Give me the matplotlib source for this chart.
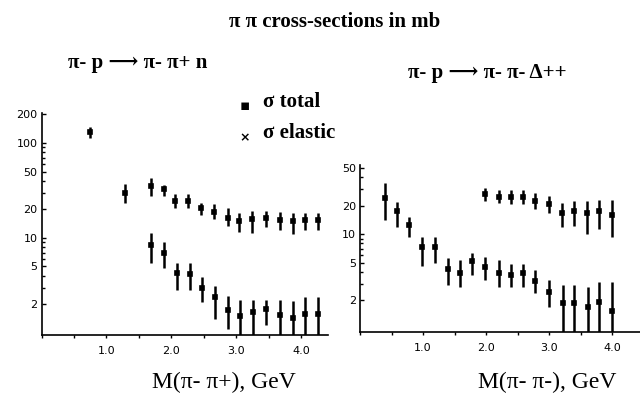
import matplotlib
matplotlib.use('Agg')
import matplotlib.pyplot as plt
from matplotlib.ticker import FixedLocator, NullFormatter, MultipleLocator

plt.rcParams['font.size'] = 8

# pi- p -> pi- pi+ n : total cross-section
m_tot_l = [0.74, 1.28, 1.68, 1.88, 2.06, 2.25, 2.46, 2.66, 2.88, 3.05, 3.25, 3.46, 3.67, 3.87, 4.06, 4.26]
s_tot_l = [131, 29.5, 35.5, 32.6, 24.5, 24.5, 20.5, 18.9, 16.1, 15.2, 15.9, 16.1, 15.4, 14.9, 15.4, 15.4]
lo_tot_l = [112, 23.2, 27.7, 27.3, 20.5, 20.5, 17.4, 15.9, 13.2, 11.6, 11.4, 13.0, 12.2, 11.1, 12.2, 12.2]
hi_tot_l = [148, 36.8, 42.5, 36.1, 29.0, 29.0, 23.2, 22.6, 20.5, 18.5, 19.4, 19.4, 18.9, 18.5, 18.5, 18.5]

# pi- p -> pi- pi+ n : elastic cross-section
m_el_l = [1.68, 1.88, 2.08, 2.28, 2.47, 2.67, 2.88, 3.06, 3.26, 3.46, 3.67, 3.87, 4.06, 4.26]
s_el_l = [8.4, 6.9, 4.25, 4.2, 2.95, 2.41, 1.75, 1.51, 1.64, 1.78, 1.55, 1.45, 1.57, 1.57]
lo_el_l = [5.4, 4.8, 2.84, 2.84, 2.1, 1.4, 1.1, 0.9, 0.9, 1.22, 0.9, 0.9, 0.9, 0.9]
hi_el_l = [11.4, 9.1, 5.5, 5.4, 3.9, 3.1, 2.45, 2.2, 2.2, 2.22, 2.2, 2.15, 2.4, 2.4]

# pi- p -> pi- pi- Delta++ : upper series
m_tot_r = [1.98, 2.20, 2.40, 2.59, 2.78, 3.00, 3.20, 3.39, 3.60, 3.79, 4.00]
s_tot_r = [26.7, 25.0, 24.6, 24.6, 22.7, 20.8, 16.9, 17.5, 16.7, 17.5, 16.0]
lo_tot_r = [22.5, 21.5, 21.0, 20.8, 18.6, 16.9, 11.9, 12.2, 10.2, 11.4, 9.3]
hi_tot_r = [30.7, 29.6, 29.6, 29.6, 27.3, 25.3, 21.6, 22.3, 22.5, 23.0, 23.2]

# pi- p -> pi- pi- Delta++ : lower series
m_el_r = [0.39, 0.58, 0.78, 0.99, 1.19, 1.39, 1.59, 1.77, 1.98, 2.20, 2.40, 2.59, 2.78, 3.00, 3.22, 3.40, 3.61, 3.79, 4.00]
s_el_r = [24.0, 17.7, 12.6, 7.3, 7.4, 4.26, 3.92, 5.26, 4.54, 3.92, 3.7, 3.85, 3.2, 2.47, 1.86, 1.86, 1.71, 1.9, 1.54]
lo_el_r = [14.2, 12.0, 9.4, 4.6, 5.0, 2.9, 2.8, 3.7, 3.3, 2.8, 2.8, 2.8, 2.4, 1.72, 0.9, 0.9, 0.9, 0.9, 0.9]
hi_el_r = [34.6, 22.0, 15.4, 9.4, 9.4, 5.6, 5.3, 6.3, 5.8, 5.3, 4.8, 4.9, 4.2, 3.3, 2.9, 2.9, 2.8, 3.1, 3.1]

xticks = [1.0, 2.0, 3.0, 4.0]
xtick_labels = ['1.0', '2.0', '3.0', '4.0']

fig = plt.figure(figsize=(6.4, 3.95), dpi=100)
ax1 = fig.add_axes([0.065, 0.152, 0.448, 0.562])
ax2 = fig.add_axes([0.5625, 0.16, 0.4375, 0.422])


def draw(ax, m, s, lo, hi, ms):
    yerr = [[v - l for v, l in zip(s, lo)], [h - v for v, h in zip(s, hi)]]
    ax.errorbar(m, s, yerr=yerr, fmt='s', color='k', ms=ms, mew=1.2,
                elinewidth=1.8, capsize=0)


draw(ax1, m_tot_l, s_tot_l, lo_tot_l, hi_tot_l, 3.5)
draw(ax1, m_el_l, s_el_l, lo_el_l, hi_el_l, 3.0)
draw(ax2, m_tot_r, s_tot_r, lo_tot_r, hi_tot_r, 3.5)
draw(ax2, m_el_r, s_el_r, lo_el_r, hi_el_r, 3.0)

for ax in (ax1, ax2):
    ax.set_yscale('log')
    ax.spines['top'].set_visible(False)
    ax.spines['right'].set_visible(False)
    ax.spines['left'].set_linewidth(1.2)
    ax.spines['bottom'].set_linewidth(1.2)
    ax.xaxis.set_major_locator(FixedLocator(xticks))
    ax.set_xticklabels(xtick_labels)
    ax.xaxis.set_minor_locator(MultipleLocator(0.5))
    ax.tick_params(axis='x', which='both', direction='out', length=2, width=1, labelsize=8, pad=6)
    ax.tick_params(axis='y', which='major', direction='in', length=3, width=1, labelsize=8, pad=3)
    ax.tick_params(axis='y', which='minor', direction='in', length=2, width=1)
    ax.yaxis.set_minor_formatter(NullFormatter())

ax1.set_xlim(0, 4.42)
ax1.set_ylim(0.95, 207)
ax1.yaxis.set_major_locator(FixedLocator([2, 5, 10, 20, 50, 100, 200]))
ax1.set_yticklabels(['2', '5', '10', '20', '50', '100', '200'])

ax2.set_xlim(0, 4.44)
ax2.set_ylim(0.93, 54)
ax2.yaxis.set_major_locator(FixedLocator([2, 5, 10, 20, 50]))
ax2.set_yticklabels(['2', '5', '10', '20', '50'])

serif = ['Liberation Serif', 'DejaVu Serif', 'DejaVu Sans']
fig.text(0.523, 0.944, 'π π cross-sections in mb', ha='center', va='center',
         family=serif, weight='bold', fontsize=15)
fig.text(0.106, 0.84, 'π- p ⟶ π- π+ n', ha='left', va='center',
         family=serif, weight='bold', fontsize=15)
fig.text(0.638, 0.815, 'π- p ⟶ π- π- Δ++', ha='left', va='center',
         family=serif, weight='bold', fontsize=15)

fig.text(0.383, 0.734, '\u25aa', ha='center', va='center', fontsize=11, color='k')
fig.text(0.411, 0.742, 'σ total', ha='left', va='center', family=serif, weight='bold', fontsize=15)
fig.text(0.383, 0.651, '\u00d7', ha='center', va='center', fontsize=9, color='k', weight='bold')
fig.text(0.411, 0.663, 'σ elastic', ha='left', va='center', family=serif, weight='bold', fontsize=15)

fig.text(0.35, 0.033, 'M(π- π+), GeV', ha='center', va='center', family=serif, fontsize=17)
fig.text(0.855, 0.033, 'M(π- π-), GeV', ha='center', va='center', family=serif, fontsize=17)

plt.savefig('out.png', dpi=100)
